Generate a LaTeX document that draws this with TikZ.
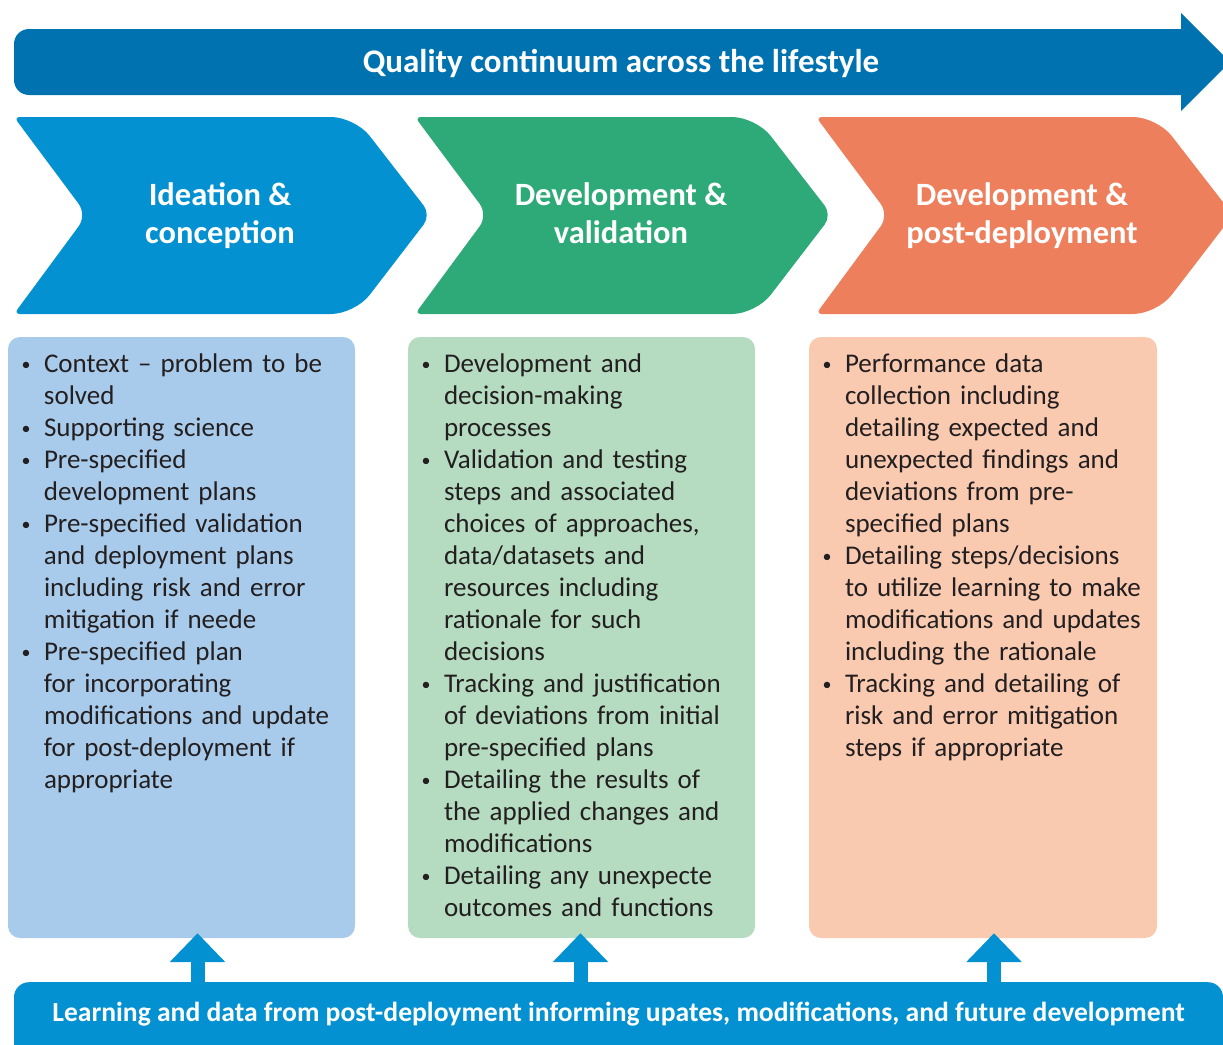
\documentclass[tikz,border=0pt]{standalone}
\usepackage{fontspec}
\setmainfont{Carlito}
\usetikzlibrary{arrows.meta,positioning,calc}

\definecolor{lifeblue}{HTML}{0072B0}
\definecolor{chevblue}{HTML}{0391D1}
\definecolor{chevgreen}{HTML}{2EAA78}
\definecolor{chevorange}{HTML}{EE7F5C}
\definecolor{boxblue}{HTML}{A9CBEB}
\definecolor{boxgreen}{HTML}{B5DCC0}
\definecolor{boxorange}{HTML}{F9C9B0}
\definecolor{itemink}{HTML}{231F20}

\newcommand{\bitem}[1]{\par\noindent\hangindent=36pt\hangafter=1%
	\makebox[36pt][c]{\raisebox{2pt}{\fontsize{18}{18}\selectfont\textbullet}}{\let\\\newline #1}}

\begin{document}
\begin{tikzpicture}[x=1pt,y=-1pt]

	\tikzset{
	infobox/.style={rectangle, rounded corners=12pt, inner sep=0pt, minimum height=601pt},
	itemtext/.style={anchor=base west, inner sep=0pt, text width=400pt, text=itemink,
		font=\fontsize{27}{32}\selectfont},
	chevtext/.style={text=white, align=center, font=\bfseries\fontsize{32.5}{38}\selectfont},
	uparrow/.style={draw=chevblue, line width=14pt, -{Triangle[width=54pt,length=29pt]}},
	bar/.style={anchor=north, fill=chevblue, rounded corners=15pt, minimum width=1209pt,
		inner sep=0pt, text height=39pt, text depth=40pt, text=white,
		font=\bfseries\fontsize{27.6}{30}\selectfont}
}

\useasboundingbox (0,0) rectangle (1223,1044);
\clip (0,0) rectangle (1223,1044);

% top arrow
\fill[lifeblue] (1181,29) [rounded corners=15pt]-- (14,29) -- (14,95) [sharp corners]-- (1181,95) -- (1181,111) -- (1230,62) -- (1181,13) -- cycle;
\node[text=white, font=\bfseries\fontsize{33}{38}\selectfont] (title) at (621,63) {Quality continuum across the lifestyle};

% chevrons
\foreach \i/\col/\txt in {0/chevblue/{Ideation \&\\conception},
	1/chevgreen/{Development \&\\validation\vphantom{p}},
	2/chevorange/{Development \&\\post-deployment}}{
\begin{scope}[xshift=401*\i]
\fill[\col, rounded corners=6pt] (14,117) [rounded corners=24pt]-- (355,117) [rounded corners=12pt]-- (431,215) [rounded corners=24pt]-- (355,314) [rounded corners=6pt]-- (14,314) [rounded corners=14pt]-- (87,215) [rounded corners=6pt]-- cycle;
\node[chevtext] (chev\i) at (220,216) {\txt};
\end{scope}
}

% boxes
\node[infobox, fill=boxblue, minimum width=347pt] (box1) at (181.5,637.5) {};
\node[infobox, fill=boxgreen, minimum width=347pt] (box2) at (581.5,637.5) {};
\node[infobox, fill=boxorange, minimum width=348pt] (box3) at (983,637.5) {};

\node[itemtext] (list1) at ([yshift=-4pt]box1.north west) {%
\bitem{Context -- problem to be\\solved}
\bitem{Supporting science}
\bitem{Pre-specified\\development plans}
\bitem{Pre-specified validation\\and deployment plans\\including risk and error\\mitigation if neede}
\bitem{Pre-specified plan\\for incorporating\\modifications and update\\for post-deployment if\\appropriate}\par};

\node[itemtext] (list2) at ([yshift=-4pt]box2.north west) {%
\bitem{Development and\\decision-making\\processes}
\bitem{Validation and testing\\steps and associated\\choices of approaches,\\data/datasets and\\resources including\\rationale for such\\decisions}
\bitem{Tracking and justification\\of deviations from initial\\pre-specified plans}
\bitem{Detailing the results of\\the applied changes and\\modifications}
\bitem{Detailing any unexpecte\\outcomes and functions}\par};

\node[itemtext] (list3) at ([yshift=-4pt]box3.north west) {%
\bitem{Performance data\\collection including\\detailing expected and\\unexpected findings and\\deviations from pre-\\specified plans}
\bitem{Detailing steps/decisions\\to utilize learning to make\\modifications and updates\\including the rationale}
\bitem{Tracking and detailing of\\risk and error mitigation\\steps if appropriate}\par};

% bottom bar
\node[bar] (bar) at (618.5,982) {Learning and data from post-deployment informing upates, modifications, and future development};

\draw[uparrow] ([xshift=16pt]box1.south |- bar.north) -- ([xshift=16pt,yshift=5pt]box1.south);
\draw[uparrow] ([xshift=-1pt]box2.south |- bar.north) -- ([xshift=-1pt,yshift=5pt]box2.south);
\draw[uparrow] ([xshift=11pt]box3.south |- bar.north) -- ([xshift=11pt,yshift=5pt]box3.south);

\end{tikzpicture}
\end{document}
